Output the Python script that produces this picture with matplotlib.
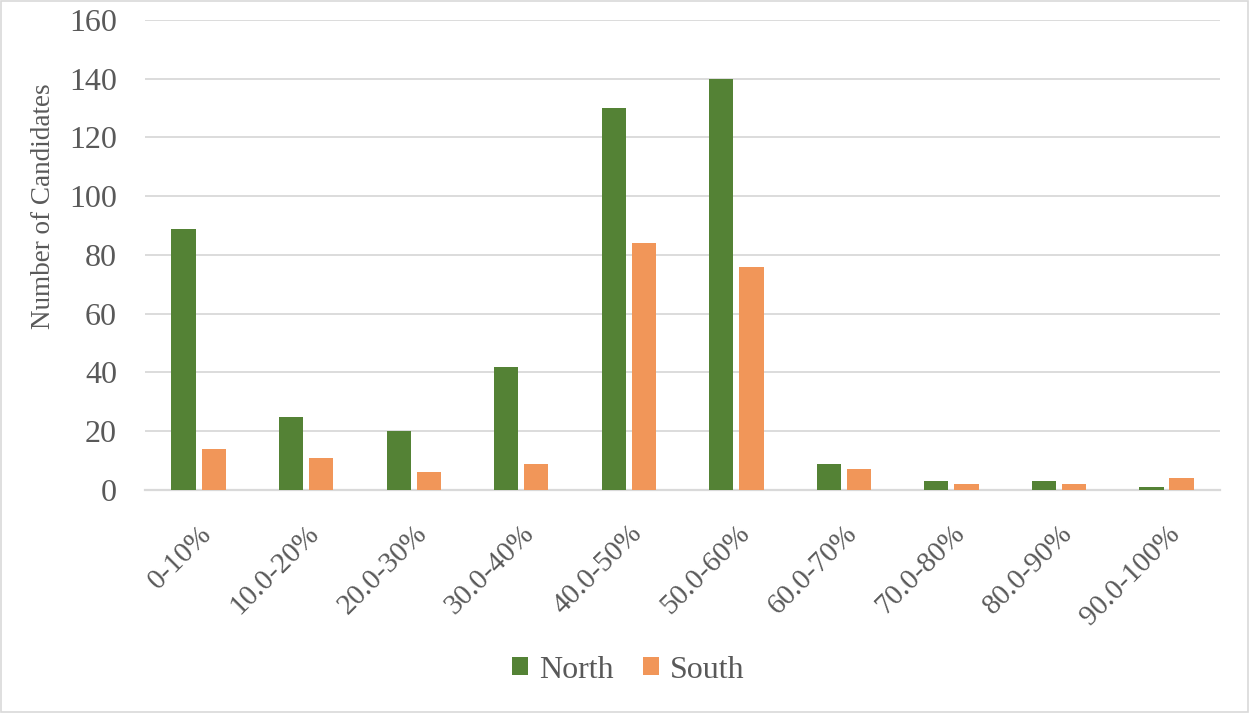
import matplotlib.pyplot as plt
import numpy as np

categories = ["0-10%", "10.0-20%", "20.0-30%", "30.0-40%", "40.0-50%",
              "50.0-60%", "60.0-70%", "70.0-80%", "80.0-90%", "90.0-100%"]
north = [89, 25, 20, 42, 130, 140, 9, 3, 3, 1]
south = [14, 11, 6, 9, 84, 76, 7, 2, 2, 4]

plt.rcParams['font.family'] = ['Liberation Serif', 'DejaVu Serif']
text_color = "#595959"

fig = plt.figure(figsize=(12.49, 7.13), dpi=100)
ax = fig.add_axes([0.116, 0.3128, 0.861, 0.6592])

x = np.arange(len(categories))
w = 0.225
ax.bar(x - 0.14, north, w, color="#548235", label="North", zorder=3)
ax.bar(x + 0.14, south, w, color="#F19659", label="South", zorder=3)

ax.set_xlim(-0.5, len(categories) - 0.5)
ax.set_ylim(0, 160)
ax.set_yticks(range(0, 161, 20))
ax.grid(axis="y", color="#D9D9D9", linewidth=1.3, zorder=0)
for s in ["top", "right", "left"]:
    ax.spines[s].set_visible(False)
ax.spines["bottom"].set_color("#D9D9D9")
ax.spines["bottom"].set_linewidth(1.6)
ax.tick_params(axis="both", length=0, colors=text_color)
ax.tick_params(axis="y", pad=20, labelsize=23)
ax.tick_params(axis="x", pad=22, labelsize=21)
ax.set_xticks(x)
ax.set_xticklabels(categories, rotation=45, ha="right", rotation_mode="anchor")
ax.set_ylabel("Number of Candidates", color=text_color, fontsize=19.5)
ax.yaxis.set_label_coords(-0.083, 0.604)

fig.legend(loc="center", bbox_to_anchor=(0.503, 0.06), ncol=2, frameon=False,
           fontsize=23, labelcolor=text_color, handlelength=0.5, handleheight=0.5,
           columnspacing=0.9, handletextpad=0.35)

fig.patches.append(plt.Rectangle((0.001, 0.001), 0.998, 0.998, transform=fig.transFigure,
                                 fill=False, edgecolor="#D9D9D9", linewidth=1.2))

fig.savefig("out.png", dpi=100)
